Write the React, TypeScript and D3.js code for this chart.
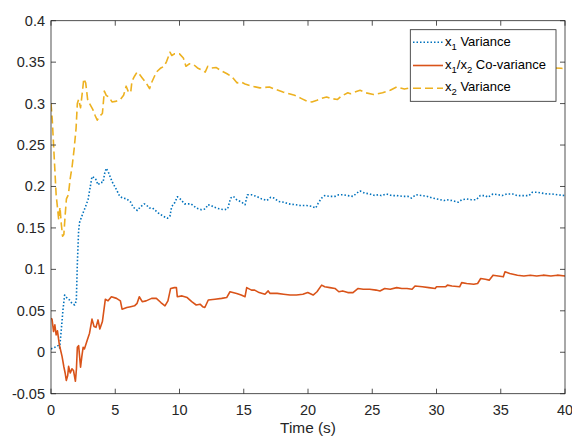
import React from "react";
import * as d3 from "d3";

// ---------- data ----------
const x1Time = [0.0,0.3,0.55,0.67,0.8,0.93,1.06,1.27,1.45,1.63,1.84,1.97,2.05,2.15,2.23,2.49,2.67,2.88,3.06,3.19,3.45,3.66,3.86,4.05,4.18,4.3,4.5,4.75,5.1,5.35,5.6,5.9,6.2,6.4,6.72,6.93,7.25,7.4,7.65,7.9,8.35,8.74,9.05,9.25,9.39,9.65,9.83,10.05,10.4,10.9,11.34,11.7,12.03,12.2,12.47,12.7,13.1,13.5,13.75,13.98,14.2,14.45,14.85,15.1,15.28,15.6,16.0,16.4,16.8,17.1,17.35,17.7,18.1,18.5,19.0,19.4,19.9,20.3,20.6,20.8,21.06,21.3,21.7,22.1,22.4,22.7,23.1,23.5,23.8,24.05,24.4,24.8,25.2,25.45,25.7,26.1,26.5,26.9,27.4,27.8,28.05,28.4,28.9,29.3,29.7,30.0,30.6,30.8,31.2,31.7,31.96,32.35,32.7,33.1,33.4,33.8,34.0,34.4,34.8,35.1,35.5,35.9,36.3,36.7,37.2,37.45,37.85,38.2,38.6,39.0,39.4,40.0];
const x1Variance = [0.004,0.006,0.008,0.005,0.027,0.051,0.069,0.065,0.063,0.059,0.057,0.062,0.107,0.147,0.157,0.168,0.175,0.184,0.200,0.212,0.210,0.202,0.205,0.205,0.216,0.222,0.216,0.206,0.196,0.188,0.186,0.185,0.181,0.175,0.171,0.175,0.179,0.178,0.174,0.174,0.168,0.164,0.1616,0.164,0.1756,0.181,0.1876,0.185,0.179,0.179,0.1737,0.172,0.173,0.178,0.177,0.175,0.173,0.172,0.173,0.186,0.188,0.184,0.181,0.178,0.190,0.190,0.188,0.185,0.183,0.187,0.186,0.182,0.181,0.179,0.178,0.177,0.177,0.176,0.174,0.180,0.186,0.189,0.188,0.188,0.190,0.190,0.189,0.188,0.192,0.1946,0.192,0.191,0.189,0.190,0.189,0.191,0.189,0.189,0.188,0.188,0.186,0.190,0.189,0.188,0.186,0.185,0.183,0.184,0.183,0.181,0.184,0.185,0.184,0.184,0.189,0.189,0.187,0.191,0.190,0.189,0.191,0.191,0.189,0.189,0.189,0.193,0.193,0.192,0.191,0.191,0.190,0.189];

const covTime = [0.0,0.08,0.2,0.3,0.4,0.5,0.65,0.86,1.0,1.1,1.19,1.3,1.37,1.5,1.63,1.75,1.9,1.98,2.05,2.15,2.3,2.4,2.5,2.6,2.83,3.0,3.19,3.35,3.5,3.66,3.8,4.0,4.23,4.44,4.7,5.1,5.4,5.53,5.9,6.2,6.5,6.7,6.87,7.1,7.4,7.83,8.2,8.55,8.87,9.1,9.31,9.6,9.76,9.83,10.2,10.6,10.95,11.3,11.6,11.8,11.97,12.24,12.76,13.28,13.67,13.93,14.45,14.8,15.1,15.23,15.6,15.85,16.2,16.65,16.9,17.05,17.6,18.1,18.6,19.1,19.6,19.98,20.4,20.7,21.06,21.3,21.7,22.1,22.4,22.7,23.1,23.5,23.9,24.3,24.8,25.3,25.6,25.97,26.4,26.9,27.3,27.7,28.1,28.33,28.9,29.4,29.9,30.0,30.7,30.85,31.2,31.8,31.96,32.35,32.9,33.2,33.44,33.8,34.1,34.4,34.8,35.2,35.33,35.7,36.3,36.8,37.3,37.8,38.3,38.9,39.4,40.0];
const coVariance = [0.041,0.040,0.025,0.033,0.021,0.026,0.009,-0.005,-0.0175,-0.025,-0.034,-0.028,-0.017,-0.025,-0.020,-0.022,-0.035,-0.020,0.006,0.008,-0.018,-0.005,0.006,0.004,0.015,0.023,0.040,0.031,0.030,0.039,0.028,0.037,0.064,0.062,0.067,0.065,0.062,0.052,0.054,0.055,0.056,0.059,0.067,0.061,0.062,0.065,0.065,0.060,0.056,0.062,0.077,0.078,0.078,0.067,0.068,0.066,0.061,0.057,0.058,0.055,0.054,0.063,0.064,0.065,0.066,0.073,0.071,0.069,0.067,0.078,0.075,0.075,0.072,0.070,0.074,0.071,0.071,0.070,0.069,0.069,0.070,0.072,0.069,0.073,0.081,0.079,0.078,0.077,0.073,0.074,0.072,0.072,0.077,0.076,0.076,0.075,0.074,0.077,0.076,0.078,0.077,0.077,0.076,0.080,0.079,0.078,0.077,0.079,0.079,0.081,0.080,0.079,0.084,0.083,0.082,0.083,0.089,0.088,0.087,0.093,0.092,0.091,0.097,0.095,0.093,0.092,0.093,0.092,0.093,0.092,0.093,0.092];

const x2Time = [0.0,0.1,0.2,0.3,0.4,0.5,0.6,0.7,0.8,0.9,1.0,1.1,1.2,1.35,1.5,1.65,1.8,1.95,2.05,2.15,2.3,2.45,2.55,2.7,2.85,3.0,3.25,3.45,3.6,3.8,4.0,4.15,4.3,4.5,4.75,5.1,5.4,5.65,5.85,6.0,6.2,6.3,6.5,6.7,6.9,7.1,7.4,7.67,7.85,8.2,8.55,8.8,9.0,9.26,9.4,9.6,10.0,10.3,10.5,10.76,11.1,11.4,11.8,12.0,12.2,12.5,12.84,13.2,13.7,14.1,14.47,14.8,15.1,15.6,16.26,17.0,17.5,18.05,18.96,19.5,19.9,20.3,20.7,21.0,21.45,21.8,22.3,22.6,23.1,23.3,24.05,24.5,25.1,25.8,26.4,26.9,27.5,28.2,29.0,30.0,31.0,32.0,33.0,34.0,35.0,36.0,37.0,38.0,39.0,39.7,40.0];
const x2Variance = [0.300,0.280,0.250,0.220,0.190,0.175,0.160,0.175,0.155,0.140,0.142,0.165,0.185,0.190,0.210,0.225,0.245,0.270,0.300,0.305,0.295,0.315,0.330,0.325,0.305,0.300,0.293,0.285,0.280,0.285,0.288,0.315,0.310,0.308,0.302,0.303,0.305,0.310,0.321,0.315,0.313,0.327,0.333,0.338,0.335,0.331,0.325,0.318,0.326,0.338,0.343,0.345,0.351,0.362,0.358,0.360,0.360,0.355,0.345,0.348,0.347,0.343,0.340,0.338,0.345,0.343,0.3436,0.340,0.336,0.332,0.325,0.326,0.3236,0.321,0.319,0.320,0.317,0.314,0.310,0.306,0.303,0.302,0.304,0.306,0.308,0.306,0.305,0.309,0.313,0.312,0.316,0.313,0.311,0.313,0.316,0.320,0.3175,0.320,0.322,0.325,0.327,0.330,0.333,0.336,0.338,0.340,0.341,0.342,0.343,0.3426,0.342];

const xTicks = [0, 5, 10, 15, 20, 25, 30, 35, 40];
const yTicks = [-0.05, 0, 0.05, 0.1, 0.15, 0.2, 0.25, 0.3, 0.35, 0.4];
const yTickLabels = ["-0.05", "0", "0.05", "0.1", "0.15", "0.2", "0.25", "0.3", "0.35", "0.4"];
const xLabel = "Time (s)";

// ---------- layout ----------
const W = 572, H = 437;
const L = 51, R = 565, T = 20.7, B = 393.7;
const AX = "#262626";
const FONT = "'Liberation Sans', Arial, Helvetica, sans-serif";

export default function App() {
  const x = d3.scaleLinear().domain([0, 40]).range([L, R]);
  const y = d3.scaleLinear().domain([-0.05, 0.4]).range([B, T]);
  const mk = (ts: number[], vs: number[]) =>
    d3.line<number>().x((_, i) => x(ts[i])).y((v) => y(v))(vs) || "";

  const series = [
    { name: "x1", d: mk(x1Time, x1Variance), color: "#0072BD", dash: "1.5 2" },
    { name: "x2", d: mk(x2Time, x2Variance), color: "#EDB120", dash: "8 4" },
    { name: "cov", d: mk(covTime, coVariance), color: "#D95319", dash: "none" },
  ];
  const tl = 5;

  const legendItems = [
    { color: "#0072BD", dash: "1.5 2", ly: 42.3, ty: 45.5, kind: "x1" },
    { color: "#D95319", dash: "none", ly: 65.5, ty: 68.5, kind: "cov" },
    { color: "#EDB120", dash: "8 4", ly: 88.3, ty: 91.2, kind: "x2" },
  ];

  return (
    <svg width={W} height={H} style={{ position: "absolute", left: 0, top: 0, background: "#fff" }}
      fontFamily={FONT}>
      <defs>
        <clipPath id="plotclip">
          <rect x={L} y={T} width={R - L} height={B - T} />
        </clipPath>
      </defs>
      <rect x={0} y={0} width={W} height={H} fill="#fff" />
      <g clipPath="url(#plotclip)">
        {series.map((s) => (
          <path key={s.name} d={s.d} fill="none" stroke={s.color} strokeWidth={1.6}
            strokeDasharray={s.dash} strokeLinejoin="round" />
        ))}
      </g>
      {/* axes box */}
      <rect x={L} y={T} width={R - L} height={B - T} fill="none" stroke={AX} strokeWidth={0.8} />
      {xTicks.map((t) => (
        <g key={"xt" + t}>
          <line x1={x(t)} x2={x(t)} y1={B} y2={B - tl} stroke={AX} strokeWidth={0.8} />
          <line x1={x(t)} x2={x(t)} y1={T} y2={T + tl} stroke={AX} strokeWidth={0.8} />
          <text x={x(t)} y={415} textAnchor="middle" fontSize={14.5} fill={AX}>{t}</text>
        </g>
      ))}
      {yTicks.map((t, i) => (
        <g key={"yt" + i}>
          <line x1={L} x2={L + tl} y1={y(t)} y2={y(t)} stroke={AX} strokeWidth={0.8} />
          <line x1={R} x2={R - tl} y1={y(t)} y2={y(t)} stroke={AX} strokeWidth={0.8} />
          <text x={45} y={y(t) + 5} textAnchor="end" fontSize={14.5} fill={AX}>{yTickLabels[i]}</text>
        </g>
      ))}
      <text x={308} y={433} textAnchor="middle" fontSize={15.4} fill={AX}>{xLabel}</text>
      {/* legend */}
      <rect x={410.3} y={29.7} width={145.7} height={71.6} fill="#fff" stroke={AX} strokeWidth={0.8} />
      {legendItems.map((it) => (
        <g key={it.kind}>
          <line x1={413} x2={443} y1={it.ly} y2={it.ly} stroke={it.color} strokeWidth={1.6}
            strokeDasharray={it.dash} />
          <text x={445} y={it.ty} fontSize={13} fill="#000">
            {it.kind === "x1" && (<>x<tspan dy={4} fontSize={9.5}>1</tspan><tspan dy={-4}> Variance</tspan></>)}
            {it.kind === "cov" && (<>x<tspan dy={4} fontSize={9.5}>1</tspan><tspan dy={-4}>/x</tspan><tspan dy={4} fontSize={9.5}>2</tspan><tspan dy={-4}> Co-variance</tspan></>)}
            {it.kind === "x2" && (<>x<tspan dy={4} fontSize={9.5}>2</tspan><tspan dy={-4}> Variance</tspan></>)}
          </text>
        </g>
      ))}
    </svg>
  );
}
